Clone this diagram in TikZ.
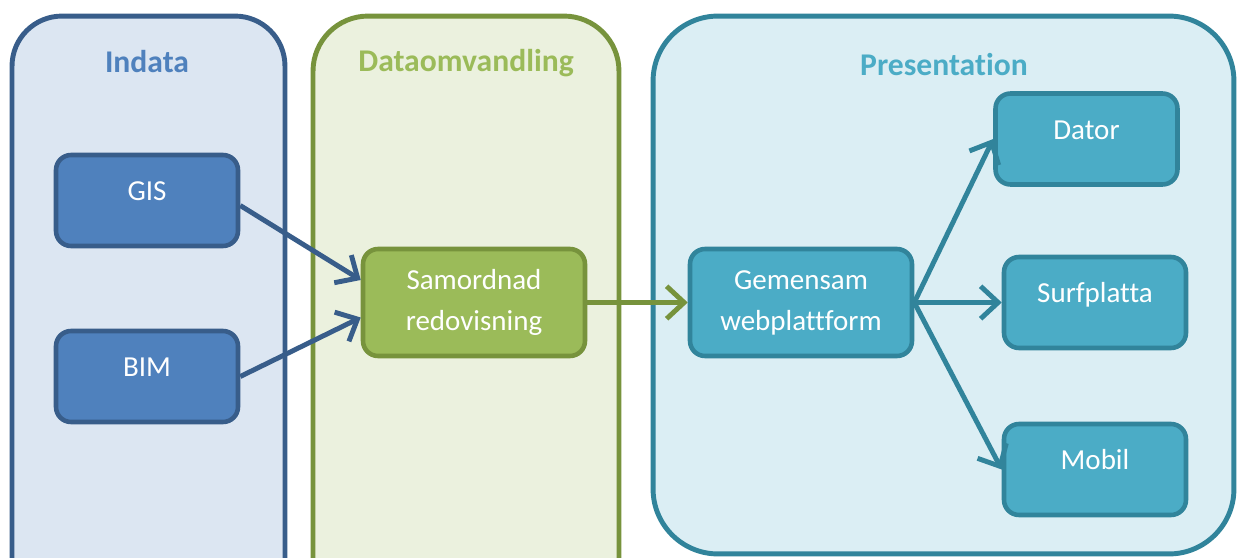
\documentclass[tikz,border=0pt]{standalone}
\usepackage{fontspec}
\setmainfont{Carlito}[Ligatures=NoCommon]
\usetikzlibrary{arrows.meta}
\definecolor{indfill}{HTML}{DCE6F2}
\definecolor{indline}{HTML}{385D8A}
\definecolor{indbox}{HTML}{4F81BD}
\definecolor{omvfill}{HTML}{EBF1DE}
\definecolor{omvline}{HTML}{77933C}
\definecolor{omvbox}{HTML}{9BBB59}
\definecolor{presfill}{HTML}{DBEEF4}
\definecolor{presline}{HTML}{31849B}
\definecolor{presbox}{HTML}{4BACC6}

\begin{document}
\begin{tikzpicture}[x=0.02cm,y=-0.02cm,
  panel/.style={draw, line width=2.8pt},
  box/.style={draw, line width=2.6pt, rounded corners=0.3cm, text=white, align=center, font=\fontsize{16.5}{23.3}\selectfont},
  leaf/.style={box, minimum width=3.64cm, minimum height=1.82cm, text height=0.4cm, text depth=0.4cm},
  mid/.style={box, minimum width=4.44cm, minimum height=2.14cm},
  title/.style={font=\fontsize{18}{20}\selectfont\bfseries},
  pil/.style={line width=2.8pt, -{Straight Barb[length=3.5mm,width=6.5mm]}}]
\useasboundingbox (0,0) rectangle (1238,558);
\clip (0,0) rectangle (1238,558);
\begin{scope}
\node[panel, draw=indline, fill=indfill, rounded corners=1cm, minimum width=5.46cm, minimum height=12.08cm] (indata) at (148.5,318) {};
\node[title, text=indbox] (indtitle) at (147,62) {Indata};
\node[leaf, draw=indline, fill=indbox] (gis) at (147,200.5) {GIS};
\node[leaf, draw=indline, fill=indbox] (bim) at (147,376.5) {BIM};
\end{scope}
\begin{scope}
\node[panel, draw=omvline, fill=omvfill, rounded corners=1.1cm, minimum width=6.12cm, minimum height=12.08cm] (omv) at (466,318) {};
\node[title, text=omvbox] (omvtitle) at (466,63) {Dataomvandling};
\node[mid, draw=omvline, fill=omvbox] (samord) at (474,302.5) {Samordnad\\redovisning};
\end{scope}
\begin{scope}
\node[panel, draw=presline, fill=presfill, rounded corners=1.3cm, minimum width=11.62cm, minimum height=10.76cm] (pres) at (943.5,285) {};
\node[title, text=presbox] (prestitle) at (944,65) {Presentation};
\node[mid, draw=presline, fill=presbox] (gem) at (801,302.5) {Gemensam\\webplattform};
\node[leaf, draw=presline, fill=presbox] (dator) at (1086.5,139) {Dator};
\node[leaf, draw=presline, fill=presbox] (surf) at (1095,302.5) {Surfplatta};
\node[leaf, draw=presline, fill=presbox] (mobil) at (1095,469.5) {Mobil};
\end{scope}
\path[draw=indline,pil] ([yshift=-0.1cm]gis.east) -- ([yshift=0.45cm]samord.west);
\path[draw=indline,pil] (bim.east) -- ([yshift=-0.3cm]samord.west);
\path[draw=omvline,pil] (samord.east) -- (gem.west);
\path[draw=presline,pil] (gem.east) -- (dator.west);
\path[draw=presline,pil] (gem.east) -- (surf.west);
\path[draw=presline,pil] (gem.east) -- (mobil.west);
\end{tikzpicture}
\end{document}
